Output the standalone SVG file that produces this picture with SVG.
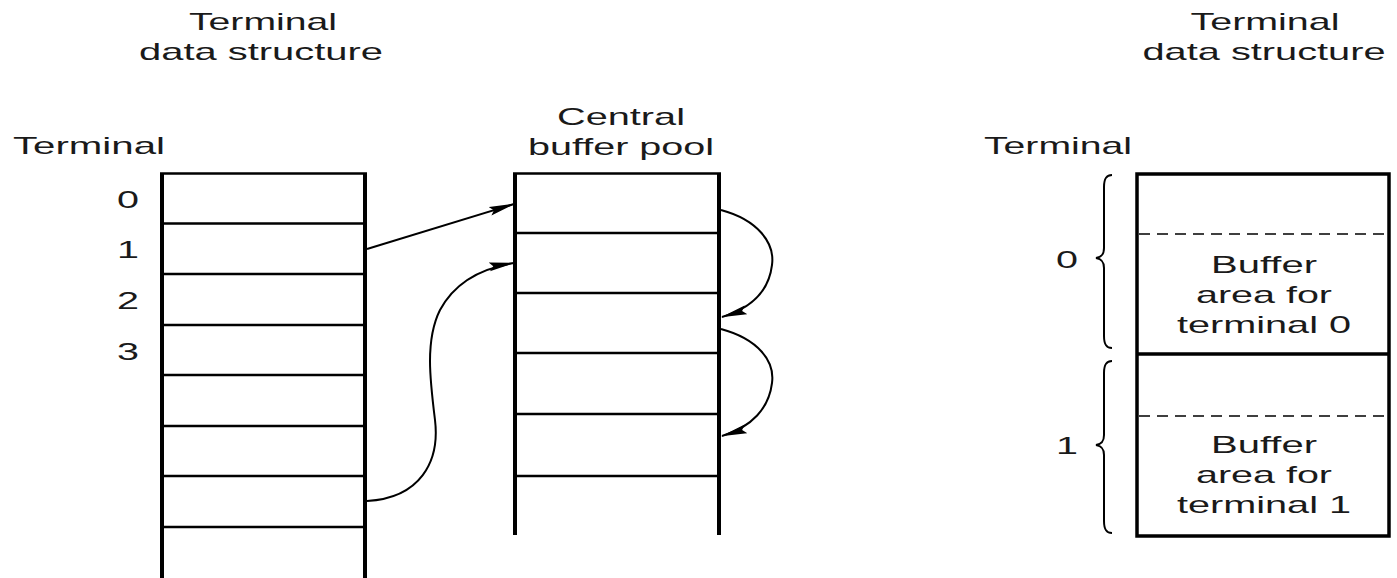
<svg xmlns="http://www.w3.org/2000/svg" width="1397" height="578" viewBox="0 0 1397 578">
  <style>
    text { font-family: "Liberation Sans", Arial, sans-serif; font-size: 24px; fill: #1a1a1a; text-anchor: middle; }
    .edge { stroke: #000; stroke-width: 4; fill: none; }
    .row { stroke: #000; stroke-width: 2.5; fill: none; }
    .box { stroke: #000; stroke-width: 3.5; fill: none; }
    .dash { stroke: #000; stroke-width: 1.5; stroke-dasharray: 11 7; fill: none; }
    .brace { stroke: #000; stroke-width: 2; fill: none; }
    .link { stroke: #000; stroke-width: 2; fill: none; marker-end: url(#arrow); }
  </style>
  <defs>
    <marker id="arrow" markerWidth="26" markerHeight="10" refX="25" refY="5" orient="auto" markerUnits="userSpaceOnUse">
      <path d="M0,0.5 L26,5 L0,9.5 L4,5 Z" fill="#000"/>
    </marker>
  </defs>
  <rect width="1397" height="578" fill="#fff"/>

  <!-- left: per-terminal pointer table -->
  <g id="terminal-table">
    <text x="263" y="30" textLength="148" lengthAdjust="spacingAndGlyphs">Terminal</text>
    <text x="261" y="60" textLength="244" lengthAdjust="spacingAndGlyphs">data structure</text>
    <text x="89" y="154" textLength="152" lengthAdjust="spacingAndGlyphs">Terminal</text>
    <text x="128" y="208" textLength="22" lengthAdjust="spacingAndGlyphs">0</text>
    <text x="128" y="258" textLength="22" lengthAdjust="spacingAndGlyphs">1</text>
    <text x="128" y="309" textLength="22" lengthAdjust="spacingAndGlyphs">2</text>
    <text x="128" y="360" textLength="22" lengthAdjust="spacingAndGlyphs">3</text>
    <path class="edge" d="M162,578 V173 M365,578 V173"/>
    <path class="row" d="M160,173.5 H367"/>
    <path class="row" d="M162,223.5 H365 M162,274 H365 M162,325 H365 M162,375 H365 M162,426 H365 M162,476 H365 M162,527 H365"/>
  </g>

  <!-- middle: shared pool of buffers -->
  <g id="buffer-pool">
    <text x="621" y="125" textLength="128" lengthAdjust="spacingAndGlyphs">Central</text>
    <text x="621" y="155" textLength="186" lengthAdjust="spacingAndGlyphs">buffer pool</text>
    <path class="edge" d="M515,535 V173 M719,535 V173"/>
    <path class="row" d="M513,173.5 H721"/>
    <path class="row" d="M515,233 H719 M515,293 H719 M515,353 H719 M515,414 H719 M515,476 H719"/>
  </g>

  <!-- right: fixed buffer area per terminal -->
  <g id="fixed-buffers">
    <text x="1265" y="30" textLength="149" lengthAdjust="spacingAndGlyphs">Terminal</text>
    <text x="1264" y="60" textLength="243" lengthAdjust="spacingAndGlyphs">data structure</text>
    <text x="1058" y="154" textLength="148" lengthAdjust="spacingAndGlyphs">Terminal</text>
    <rect class="box" x="1137" y="174" width="252" height="362"/>
    <path class="box" d="M1137,354 H1389"/>
    <path class="dash" d="M1139,234 H1389 M1139,416 H1389"/>
    <text x="1264" y="273" textLength="106" lengthAdjust="spacingAndGlyphs">Buffer</text>
    <text x="1264" y="303" textLength="136" lengthAdjust="spacingAndGlyphs">area for</text>
    <text x="1264" y="333" textLength="174" lengthAdjust="spacingAndGlyphs">terminal 0</text>
    <text x="1264" y="453" textLength="106" lengthAdjust="spacingAndGlyphs">Buffer</text>
    <text x="1264" y="483" textLength="136" lengthAdjust="spacingAndGlyphs">area for</text>
    <text x="1264" y="513" textLength="174" lengthAdjust="spacingAndGlyphs">terminal 1</text>
    <text x="1067" y="268" textLength="22" lengthAdjust="spacingAndGlyphs">0</text>
    <text x="1067" y="454" textLength="22" lengthAdjust="spacingAndGlyphs">1</text>
    <path class="brace" d="M1112,175 C1106,175 1104,179 1104,187 L1104,248 C1104,254 1102,257 1096,258 C1102,259 1104,262 1104,268 L1104,336 C1104,344 1106,348 1112,348"/>
    <path class="brace" d="M1112,361 C1106,361 1104,365 1104,373 L1104,435 C1104,441 1102,444 1096,445 C1102,446 1104,449 1104,455 L1104,521 C1104,529 1106,533 1112,533"/>
  </g>

  <!-- pointers -->
  <g id="connectors">
    <path class="link" d="M367,249 L514,204"/>
    <path class="link" d="M367,501 C420,498 440,462 435,420 C430,380 425,340 440,310 C455,282 482,268 514,263"/>
    <path class="link" d="M721,210 C758,220 775,243 772,265 C769,290 752,308 722,317"/>
    <path class="link" d="M721,329 C758,339 775,361 772,383 C769,408 752,427 722,436"/>
  </g>
</svg>
